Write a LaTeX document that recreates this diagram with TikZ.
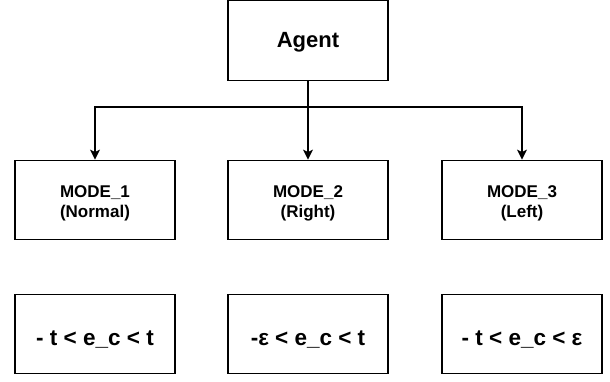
\documentclass[tikz,border=0pt]{standalone}
\usepackage{fontspec}
\setmainfont{Liberation Sans}
\usetikzlibrary{arrows.meta}
\newcommand{\mytwo}[2]{\begin{tabular}[b]{@{}c@{}}#1\\#2\end{tabular}}
\begin{document}
\begin{tikzpicture}[x=1pt,y=-1pt,
  box/.style={draw,line width=1.3pt,minimum width=160pt,minimum height=79.5pt,inner sep=0pt},
  agentbox/.style={box,font=\bfseries\fontsize{22}{26}\selectfont,text height=16pt,text depth=3pt},
  modebox/.style={box,font=\bfseries\fontsize{17}{20}\selectfont,text height=36pt,text depth=2pt},
  condbox/.style={box,font=\bfseries\fontsize{22.5}{26}\selectfont,text height=23pt,text depth=0pt},
  arr/.style={line width=1.2pt,-{Stealth[length=10pt,width=10pt,inset=2.5pt]}}]
\useasboundingbox (0,0) rectangle (610,381);
\node[agentbox] (agent) at (308,40.5) {Agent};
\node[modebox] (m1) at (95,200) {\mytwo{MODE\_1}{(Normal)}};
\node[modebox] (m2) at (308,200) {\mytwo{MODE\_2}{(Right)}};
\node[modebox] (m3) at (522,200) {\mytwo{MODE\_3}{(Left)}};
\node[condbox] (c1) at (95,334) {- t < e\_c < t};
\node[condbox] (c2) at (308,334) {-ε < e\_c < t};
\node[condbox] (c3) at (522,334) {- t < e\_c < ε};
\coordinate (j) at (308,107);
\draw[line width=1.2pt] (agent.south) -- (j);
\draw[arr] (j) -| (m1.north);
\draw[arr] (j) -| (m3.north);
\draw[arr] (agent.south) -- (m2.north);
\end{tikzpicture}
\end{document}
